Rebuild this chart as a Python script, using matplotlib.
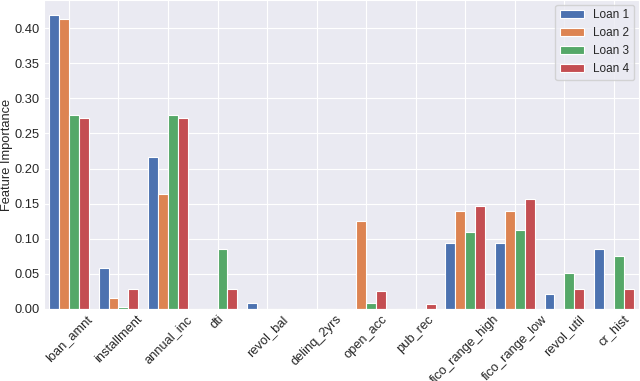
import matplotlib
matplotlib.use("Agg")
import matplotlib.pyplot as plt
import numpy as np
import seaborn as sns

features = ['loan_amnt', 'installment', 'annual_inc', 'dti', 'revol_bal', 'delinq_2yrs',
            'open_acc', 'pub_rec', 'fico_range_high', 'fico_range_low', 'revol_util', 'cr_hist']
loan_1 = [0.419, 0.059, 0.216, 0.0, 0.008, 0.0, 0.0, 0.0, 0.094, 0.094, 0.021, 0.085]
loan_2 = [0.413, 0.015, 0.164, 0.0, 0.0, 0.0, 0.126, 0.0, 0.140, 0.140, 0.0, 0.0]
loan_3 = [0.276, 0.003, 0.276, 0.085, 0.0, 0.0, 0.008, 0.0, 0.109, 0.113, 0.051, 0.076]
loan_4 = [0.272, 0.029, 0.272, 0.029, 0.0, 0.0, 0.025, 0.007, 0.147, 0.156, 0.029, 0.029]
series = {'Loan 1': loan_1, 'Loan 2': loan_2, 'Loan 3': loan_3, 'Loan 4': loan_4}

sns.set_style("darkgrid")
plt.rcParams['font.family'] = ['Liberation Sans', 'DejaVu Sans']
colors = sns.color_palette("deep")

fig = plt.figure(figsize=(6.4, 3.81), dpi=100)
ax = fig.add_axes([0.069, 0.189, 0.929, 0.811])

x = np.arange(len(features))
w = 0.2
for i, (name, vals) in enumerate(series.items()):
    ax.bar(x - 0.3 + i * w, vals, width=w, color=colors[i], edgecolor='white',
           linewidth=0.8, label=name)

ax.set_xlim(-0.5, len(features) - 0.5)
ax.set_ylim(0, 0.44)
ax.set_yticks(np.arange(0, 0.41, 0.05))
ax.set_yticklabels([f"{v:.2f}" for v in np.arange(0, 0.41, 0.05)], fontsize=9.3)
ax.set_xticks(x)
ax.set_xticklabels(features, rotation=45, fontsize=9.3)
ax.set_ylabel("Feature Importance", fontsize=9.3, labelpad=1)
ax.tick_params(axis='both', length=0, pad=3)
ax.legend(loc='upper right', fontsize=8.5, borderaxespad=0.4)

fig.savefig("out.png", dpi=100)
